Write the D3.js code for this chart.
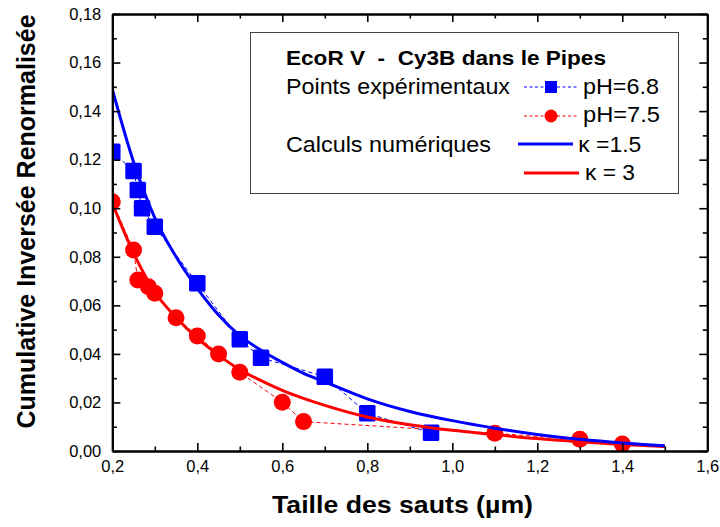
<!DOCTYPE html>
<html><head><meta charset="utf-8">
<script src="https://cdn.jsdelivr.net/npm/d3@7"></script>
<style>
body{margin:0;background:#fff}
svg{display:block}
text{font-family:Arial,"Liberation Sans",sans-serif;fill:#000}
</style></head>
<body><svg id="chart" width="720" height="527"></svg>
<script>
// ---- data ----
const bluePointsX = [0.2, 0.25, 0.26, 0.27, 0.30, 0.40, 0.50, 0.55, 0.70, 0.80, 0.95];
const bluePointsY = [0.1233, 0.1153, 0.1075, 0.100, 0.0924, 0.0691, 0.046, 0.0384, 0.0306, 0.0155, 0.0075];
const redPointsX = [0.2, 0.25, 0.26, 0.285, 0.30, 0.35, 0.40, 0.45, 0.50, 0.60, 0.65, 1.10, 1.30, 1.40];
const redPointsY = [0.1027, 0.0828, 0.0704, 0.0677, 0.065, 0.0549, 0.0474, 0.040, 0.0324, 0.0201, 0.0121, 0.0073, 0.0048, 0.0029];
const curveX = [0.2, 0.25, 0.3, 0.35, 0.4, 0.45, 0.5, 0.55, 0.6, 0.65, 0.7, 0.8, 0.9, 1.0, 1.1, 1.2, 1.3, 1.4, 1.5];
const kappa15Y = [0.149, 0.119, 0.096, 0.080, 0.067, 0.056, 0.0475, 0.0415, 0.0365, 0.032, 0.0285, 0.0215, 0.0163, 0.0125, 0.0094, 0.0068, 0.0048, 0.0033, 0.0022];
const kappa3Y  = [0.102, 0.0815, 0.0655, 0.055, 0.0465, 0.0395, 0.0335, 0.029, 0.025, 0.0217, 0.0188, 0.014, 0.0108, 0.0085, 0.0068, 0.0051, 0.0038, 0.0027, 0.0018];
const xTickValues = [0.2, 0.4, 0.6, 0.8, 1.0, 1.2, 1.4, 1.6];
const xTickLabels = ["0,2", "0,4", "0,6", "0,8", "1,0", "1,2", "1,4", "1,6"];
const xMinorValues = [0.3, 0.5, 0.7, 0.9, 1.1, 1.3, 1.5];
const yTickValues = [0, 0.02, 0.04, 0.06, 0.08, 0.10, 0.12, 0.14, 0.16, 0.18];
const yTickLabels = ["0,00", "0,02", "0,04", "0,06", "0,08", "0,10", "0,12", "0,14", "0,16", "0,18"];
const yMinorValues = [0.01, 0.03, 0.05, 0.07, 0.09, 0.11, 0.13, 0.15, 0.17];
const xTitle = "Taille des sauts (µm)";
const yTitle = "Cumulative Inversée Renormalisée";
const legendTitle = "EcoR V  -  Cy3B dans le Pipes";
const seriesNames = ["pH=6.8", "pH=7.5", "\u03BA =1.5", "\u03BA = 3"];
const BLUE = "#0000ff", RED = "#ff0000";

// ---- layout ----
const svg = d3.select("#chart");
const L = 112.3, R = 707.3, T = 14, B = 451;
const x = d3.scaleLinear().domain([0.2, 1.6]).range([L, R]);
const y = d3.scaleLinear().domain([0, 0.18]).range([B, T]);

svg.append("defs").append("clipPath").attr("id", "clip")
  .append("rect").attr("x", L).attr("y", T).attr("width", R - L).attr("height", B - T);

const plot = svg.append("g").attr("clip-path", "url(#clip)");

const blue = bluePointsX.map((v, i) => [v, bluePointsY[i]]);
const red = redPointsX.map((v, i) => [v, redPointsY[i]]);
const k15 = curveX.map((v, i) => [v, kappa15Y[i]]);
const k3 = curveX.map((v, i) => [v, kappa3Y[i]]);

const line = d3.line().x(d => x(d[0])).y(d => y(d[1]));
const smooth = d3.line().x(d => x(d[0])).y(d => y(d[1])).curve(d3.curveMonotoneX);

// dashed connecting lines
plot.append("path").attr("d", line(blue)).attr("fill", "none").attr("stroke", BLUE)
  .attr("stroke-width", 1).attr("stroke-dasharray", "4,3");
plot.append("path").attr("d", line(red)).attr("fill", "none").attr("stroke", RED)
  .attr("stroke-width", 1).attr("stroke-dasharray", "4,3");

// markers
const sq = 16.5;
plot.selectAll("rect.b").data(blue).join("rect").attr("class", "b")
  .attr("x", d => x(d[0]) - sq / 2).attr("y", d => y(d[1]) - sq / 2)
  .attr("width", sq).attr("height", sq).attr("rx", 1.5).attr("fill", BLUE);
plot.selectAll("circle.r").data(red).join("circle").attr("class", "r")
  .attr("cx", d => x(d[0])).attr("cy", d => y(d[1])).attr("r", 8.5).attr("fill", RED);

// model curves on top
plot.append("path").attr("d", smooth(k3)).attr("fill", "none").attr("stroke", RED).attr("stroke-width", 3);
plot.append("path").attr("d", smooth(k15)).attr("fill", "none").attr("stroke", BLUE).attr("stroke-width", 3);

// ---- axes ----
function styleAxis(g) {
  g.selectAll("path.domain").attr("stroke", "#000").attr("stroke-width", 2);
  g.selectAll(".tick line").attr("stroke", "#000").attr("stroke-width", 1.6);
}
const fmtX = v => xTickLabels[xTickValues.findIndex(t => Math.abs(t - v) < 1e-9)];
const fmtY = v => yTickLabels[yTickValues.findIndex(t => Math.abs(t - v) < 1e-9)];

const gB = svg.append("g").attr("transform", `translate(0,${B})`)
  .call(d3.axisBottom(x).tickValues(xTickValues).tickFormat(fmtX).tickSizeInner(-8).tickSizeOuter(0).tickPadding(9));
const gBm = svg.append("g").attr("transform", `translate(0,${B})`)
  .call(d3.axisBottom(x).tickValues(xMinorValues).tickFormat("").tickSizeInner(-4.5).tickSizeOuter(0));
const gT = svg.append("g").attr("transform", `translate(0,${T})`)
  .call(d3.axisTop(x).tickValues(xTickValues).tickFormat("").tickSizeInner(-8).tickSizeOuter(0));
const gTm = svg.append("g").attr("transform", `translate(0,${T})`)
  .call(d3.axisTop(x).tickValues(xMinorValues).tickFormat("").tickSizeInner(-4.5).tickSizeOuter(0));
const gL = svg.append("g").attr("transform", `translate(${L},0)`)
  .call(d3.axisLeft(y).tickValues(yTickValues).tickFormat(fmtY).tickSizeInner(-8).tickSizeOuter(0).tickPadding(11));
const gLm = svg.append("g").attr("transform", `translate(${L},0)`)
  .call(d3.axisLeft(y).tickValues(yMinorValues).tickFormat("").tickSizeInner(-4.5).tickSizeOuter(0));
const gR = svg.append("g").attr("transform", `translate(${R},0)`)
  .call(d3.axisRight(y).tickValues(yTickValues).tickFormat("").tickSizeInner(-8).tickSizeOuter(0));
const gRm = svg.append("g").attr("transform", `translate(${R},0)`)
  .call(d3.axisRight(y).tickValues(yMinorValues).tickFormat("").tickSizeInner(-4.5).tickSizeOuter(0));
[gB, gBm, gT, gTm, gL, gLm, gR, gRm].forEach(styleAxis);
[gB, gL].forEach(g => g.selectAll(".tick text").attr("font-family", "Arial, 'Liberation Sans', sans-serif")
  .attr("font-size", 16.5).attr("fill", "#000"));

// axis titles
svg.append("text").attr("x", (272 + 533) / 2).attr("y", 512.5).attr("text-anchor", "middle")
  .attr("font-weight", "bold").attr("font-size", 23).attr("textLength", 261).attr("lengthAdjust", "spacingAndGlyphs")
  .text(xTitle);
svg.append("text").attr("transform", `translate(35,221.5) rotate(-90)`).attr("text-anchor", "middle")
  .attr("font-weight", "bold").attr("font-size", 25).text(yTitle);

// ---- legend ----
const lg = svg.append("g");
lg.append("rect").attr("x", 250.5).attr("y", 32.5).attr("width", 428).attr("height", 161)
  .attr("fill", "#fff").attr("stroke", "#444").attr("stroke-width", 1);
function ltext(str, tx, ty, size, w, bold) {
  const t = lg.append("text").attr("x", tx).attr("y", ty).attr("font-size", size)
    .attr("textLength", w).attr("lengthAdjust", "spacingAndGlyphs")
    .style("white-space", "pre").text(str);
  if (bold) t.attr("font-weight", "bold");
  return t;
}
ltext(legendTitle, 286, 64.5, 21, 320, true);
ltext("Points expérimentaux", 286, 93.5, 22, 224);
ltext("Calculs numériques", 286, 151.5, 22, 205);
ltext(seriesNames[0], 583, 93.5, 22, 76);
ltext(seriesNames[1], 583, 122, 22, 77);
ltext(seriesNames[2], 578.3, 151.5, 22, 63);
ltext(seriesNames[3], 585, 179.5, 22, 50);
// legend swatches
lg.append("line").attr("x1", 524).attr("x2", 578).attr("y1", 87).attr("y2", 87)
  .attr("stroke", BLUE).attr("stroke-width", 1).attr("stroke-dasharray", "3,2.5");
lg.append("rect").attr("x", 551 - 6).attr("y", 87 - 6).attr("width", 12).attr("height", 12).attr("fill", BLUE);
lg.append("line").attr("x1", 524).attr("x2", 578).attr("y1", 116).attr("y2", 116)
  .attr("stroke", RED).attr("stroke-width", 1).attr("stroke-dasharray", "3,2.5");
lg.append("circle").attr("cx", 551).attr("cy", 116).attr("r", 6.5).attr("fill", RED);
lg.append("line").attr("x1", 518).attr("x2", 573).attr("y1", 144).attr("y2", 144)
  .attr("stroke", BLUE).attr("stroke-width", 3);
lg.append("line").attr("x1", 524).attr("x2", 579).attr("y1", 173).attr("y2", 173)
  .attr("stroke", RED).attr("stroke-width", 3);
</script></body></html>
